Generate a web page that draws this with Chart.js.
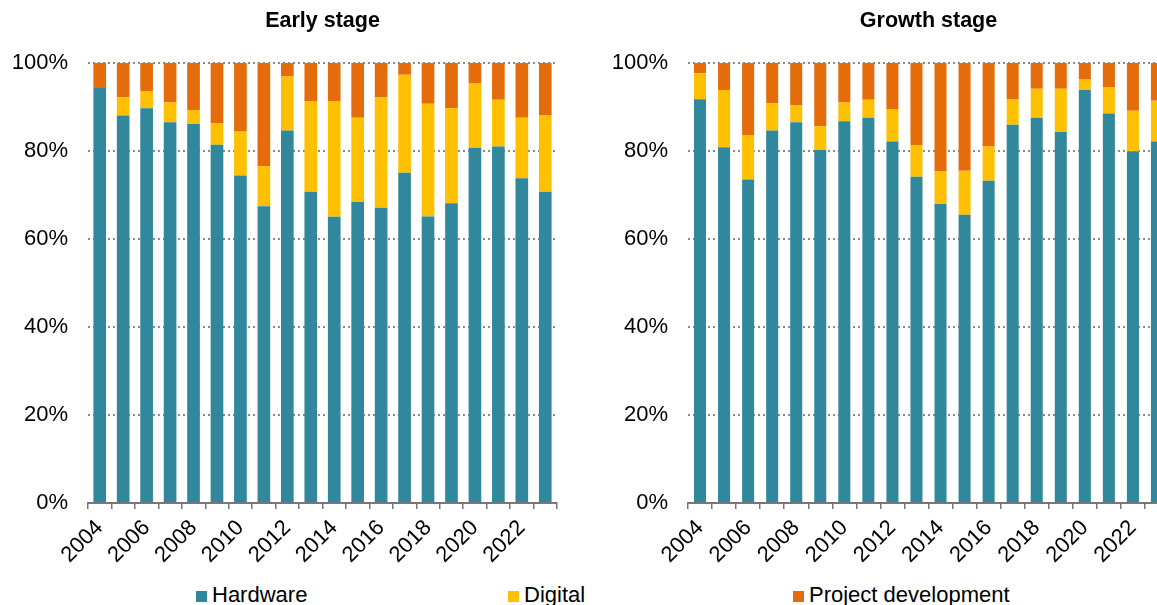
<!DOCTYPE html>
<html>
<head>
<meta charset="utf-8">
<script src="https://cdn.jsdelivr.net/npm/chart.js@4.4.1/dist/chart.umd.min.js"></script>
<style>
  body { margin: 0; background: #fff; }
  #page { position: relative; width: 1157px; height: 605px; overflow: hidden; font-family: "Liberation Sans", Arial, sans-serif; }
  canvas { position: absolute; top: 0; }
  .key { position: absolute; top: 584px; font-size: 22px; line-height: 22px; color: #000; white-space: nowrap; }
  .key i { position: absolute; left: -16px; top: 7px; width: 11px; height: 11px; }
</style>
</head>
<body>
<div id="page">
  <canvas id="early" width="578" height="565" style="left:0"></canvas>
  <canvas id="growth" width="575" height="565" style="left:600px"></canvas>
  <div class="key" style="left:212px"><i style="background:#31879B"></i>Hardware</div>
  <div class="key" style="left:524px"><i style="background:#FFC000"></i>Digital</div>
  <div class="key" style="left:809px"><i style="background:#E46C0A"></i>Project development</div>
</div>
<script>
const years = ['2004','2005','2006','2007','2008','2009','2010','2011','2012','2013',
               '2014','2015','2016','2017','2018','2019','2020','2021','2022','2023'];

// early stage, share in %
const hardwareEarly = [94.3, 88.0, 89.7, 86.5, 86.1, 81.4, 74.4, 67.4, 84.6, 70.7,
                       65.0, 68.4, 67.1, 75.0, 65.1, 68.1, 80.7, 81.0, 73.8, 70.7];
const digitalEarly  = [0.0, 4.2, 3.9, 4.5, 3.2, 4.8, 10.1, 9.1, 12.3, 20.6,
                       26.3, 19.1, 25.0, 22.3, 25.6, 21.6, 14.7, 10.6, 13.7, 17.3];
const projectEarly  = [5.7, 7.8, 6.4, 9.0, 10.7, 13.8, 15.5, 23.5, 3.1, 8.7,
                       8.7, 12.5, 7.9, 2.7, 9.3, 10.3, 4.6, 8.4, 12.5, 12.0];

// growth stage, share in %
const hardwareGrowth = [91.7, 80.8, 73.5, 84.6, 86.5, 80.2, 86.7, 87.5, 82.1, 74.1,
                        67.9, 65.5, 73.2, 85.9, 87.5, 84.3, 93.8, 88.5, 79.9, 82.1];
const digitalGrowth  = [5.9, 13.0, 10.1, 6.2, 3.8, 5.4, 4.3, 4.1, 7.4, 7.2,
                        7.4, 10.0, 7.8, 5.9, 6.6, 9.8, 2.5, 6.0, 9.2, 9.3];
const projectGrowth  = [2.4, 6.2, 16.4, 9.2, 9.7, 14.4, 9.0, 8.4, 10.5, 18.7,
                        24.7, 24.5, 19.0, 8.2, 5.9, 5.9, 3.7, 5.5, 10.9, 8.6];

const yTicks = [0, 20, 40, 60, 80, 100];

Chart.defaults.font.family = '"Liberation Sans", Arial, sans-serif';
Chart.defaults.color = '#000';

function makeChart(id, title, hw, dg, pd, padRight, barPct) {
    const ds = (label, data, color) => ({
        label: label,
        data: data,
        backgroundColor: color,
        borderWidth: 0,
        barPercentage: barPct,
        categoryPercentage: 1.0
    });
    return new Chart(document.getElementById(id), {
        type: 'bar',
        data: {
            labels: years,
            datasets: [
                ds('Hardware', hw, '#31879B'),
                ds('Digital', dg, '#FFC000'),
                ds('Project development', pd, '#E46C0A')
            ]
        },
        options: {
            responsive: false,
            animation: false,
            layout: { padding: { top: 6, left: 0, right: padRight, bottom: 0 } },
            plugins: {
                legend: { display: false },
                tooltip: { enabled: false },
                title: {
                    display: true,
                    text: title,
                    fullSize: false,
                    font: { size: 21.5, weight: 'bold' },
                    padding: { top: 2, bottom: 29 }
                }
            },
            scales: {
                x: {
                    stacked: true,
                    afterFit: function(scale) {
                        scale.height = 62;
                        // keep the plot edges fixed, labels may hang over
                        scale.paddingLeft = 0;
                        scale.paddingRight = 0;
                    },
                    grid: {
                        offset: true,
                        drawOnChartArea: false,
                        drawTicks: true,
                        tickLength: 6,
                        color: '#777',
                        lineWidth: 1.5
                    },
                    border: { display: true, color: '#777', width: 2 },
                    ticks: {
                        autoSkip: false,
                        minRotation: 45,
                        maxRotation: 45,
                        padding: 6,
                        font: { size: 22 },
                        callback: function(v, i) { return i % 2 === 0 ? years[i] : ''; }
                    }
                },
                y: {
                    stacked: true,
                    min: 0,
                    max: 100,
                    afterFit: function(scale) { scale.width = 88; },
                    afterBuildTicks: function(scale) { scale.ticks = yTicks.map(v => ({ value: v })); },
                    grid: {
                        drawTicks: false,
                        color: ctx => ctx.tick && ctx.tick.value === 0 ? 'rgba(0,0,0,0)' : '#8a8a8a',
                        lineWidth: 2
                    },
                    border: { display: false, dash: [2, 3] },
                    ticks: {
                        padding: 20,
                        font: { size: 22 },
                        callback: v => v + '%'
                    }
                }
            }
        }
    });
}

makeChart('early', 'Early stage', hardwareEarly, digitalEarly, projectEarly, 21, 0.54);
makeChart('growth', 'Growth stage', hardwareGrowth, digitalGrowth, projectGrowth, 6, 0.5);
</script>
</body>
</html>
